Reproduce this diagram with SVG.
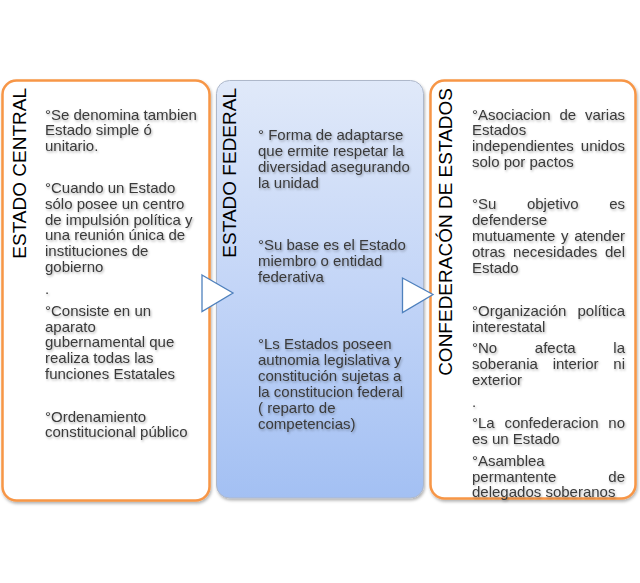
<svg xmlns="http://www.w3.org/2000/svg" width="640" height="583" viewBox="0 0 640 583">
<defs>
<linearGradient id="blueGrad" x1="0" y1="0" x2="0" y2="1">
<stop offset="0" stop-color="#E0E9F9"/>
<stop offset="0.5" stop-color="#C3D5F7"/>
<stop offset="1" stop-color="#A3C0F3"/>
</linearGradient>
<filter id="boxShadow" x="-10%" y="-10%" width="120%" height="120%">
<feDropShadow dx="1" dy="2" stdDeviation="1.5" flood-color="#000" flood-opacity="0.3"/>
</filter>
<filter id="txtShadow" x="-5%" y="-20%" width="110%" height="150%">
<feDropShadow dx="1" dy="1.5" stdDeviation="0.8" flood-color="#000" flood-opacity="0.3"/>
</filter>
</defs>
<style>
.orange{fill:#FFFFFF;stroke:#F79646;stroke-width:2.5}
.blue{fill:url(#blueGrad);stroke:#AEB8CA;stroke-width:1}
.title{font-family:"Liberation Sans",Arial,sans-serif;font-size:19px;fill:#000;text-anchor:end}
.body{font-family:"Liberation Sans",Arial,sans-serif;font-size:15px;fill:#3A3A3A}
.end{text-anchor:end}
.arrow{fill:#FFFFFF;stroke:#4F81BD;stroke-width:1.3}
</style>
<rect width="640" height="583" fill="#FFFFFF"/>

<g id="estado-central">
<rect class="orange" x="2.5" y="80.5" width="207" height="420" rx="14" filter="url(#boxShadow)"/>
<text class="title" transform="translate(26,88) rotate(-90)">ESTADO CENTRAL</text>
<g class="body" filter="url(#txtShadow)">
<text x="45" y="119.5">°Se denomina tambien</text>
<text x="45" y="135">Estado simple ó</text>
<text x="45" y="151">unitario.</text>
<text x="45" y="193">°Cuando un Estado</text>
<text x="45" y="209">sólo posee un centro</text>
<text x="45" y="224.5">de impulsión política y</text>
<text x="45" y="240">una reunión única de</text>
<text x="45" y="256">instituciones de</text>
<text x="45" y="272">gobierno</text>
<text x="45" y="294">.</text>
<text x="45" y="316">°Consiste en un</text>
<text x="45" y="331.5">aparato</text>
<text x="45" y="347">gubernamental que</text>
<text x="45" y="363">realiza todas las</text>
<text x="45" y="378.5">funciones Estatales</text>
<text x="45" y="421.5">°Ordenamiento</text>
<text x="45" y="437">constitucional público</text>
</g>
</g>

<g id="estado-federal">
<rect class="blue" x="216.5" y="80.5" width="207" height="417.5" rx="13" filter="url(#boxShadow)"/>
<text class="title" transform="translate(236,88) rotate(-90)">ESTADO FEDERAL</text>
<g class="body" filter="url(#txtShadow)">
<text x="258" y="139.5">° Forma de adaptarse</text>
<text x="258" y="155.5">que ermite respetar la</text>
<text x="258" y="171.5">diversidad asegurando</text>
<text x="258" y="187.5">la unidad</text>
<text x="258" y="250">°Su base es el Estado</text>
<text x="258" y="266">miembro o entidad</text>
<text x="258" y="282">federativa</text>
<text x="258" y="349">°Ls Estados poseen</text>
<text x="258" y="365">autnomia legislativa y</text>
<text x="258" y="381">constitución sujetas a</text>
<text x="258" y="397">la constitucion federal</text>
<text x="258" y="413">( reparto de</text>
<text x="258" y="429">competencias)</text>
</g>
</g>

<g id="confederacion">
<rect class="orange" x="430.5" y="80.5" width="205" height="418" rx="14" filter="url(#boxShadow)"/>
<text class="title" transform="translate(452,88) rotate(-90)">CONFEDERACÓN DE ESTADOS</text>
<g class="body" filter="url(#txtShadow)">
<text x="472" y="119.5">°Asociacion</text><text x="559.4" y="119.5">de</text><text class="end" x="625" y="119.5">varias</text>
<text x="472" y="135">Estados</text>
<text x="472" y="151">independientes</text><text class="end" x="625" y="151">unidos</text>
<text x="472" y="166.5">solo por pactos</text>
<text x="472" y="209">°Su</text><text x="526.9" y="209">objetivo</text><text class="end" x="625" y="209">es</text>
<text x="472" y="225">defenderse</text>
<text x="472" y="241">mutuamente</text><text x="561" y="241">y</text><text class="end" x="625" y="241">atender</text>
<text x="472" y="257">otras</text><text x="513.1" y="257">necesidades</text><text class="end" x="625" y="257">del</text>
<text x="472" y="273">Estado</text>
<text x="472" y="316">°Organización</text><text class="end" x="625" y="316">política</text>
<text x="472" y="332">interestatal</text>
<text x="472" y="353">°No</text><text x="534.8" y="353">afecta</text><text class="end" x="625" y="353">la</text>
<text x="472" y="369">soberania</text><text x="552.7" y="369">interior</text><text class="end" x="625" y="369">ni</text>
<text x="472" y="384.5">exterior</text>
<text x="472" y="407">.</text>
<text x="472" y="428">°La</text><text x="504.4" y="428">confederacion</text><text class="end" x="625" y="428">no</text>
<text x="472" y="443.5">es un Estado</text>
<text x="472" y="465.5">°Asamblea</text>
<text x="472" y="481.5">permantente</text><text class="end" x="625" y="481.5">de</text>
<text x="472" y="497">delegados soberanos</text>
</g>
</g>

<g id="connectors">
<polygon class="arrow" points="202,275 233,293 202,311.5"/>
<polygon class="arrow" points="402.5,278 433,294.5 402.5,312.5"/>
</g>
</svg>
